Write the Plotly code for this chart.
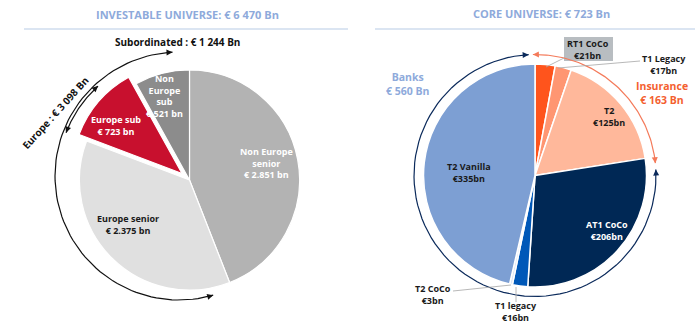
import math
import plotly.graph_objects as go

# ---- data -------------------------------------------------------------
left_labels = ["Non Europe senior", "Europe senior", "Europe sub", "Non Europe sub"]
left_values = [2851, 2375, 723, 521]
left_colors = ["#b3b3b3", "#e0e0e0", "#c8102e", "#8c8c8c"]
left_pull = [0, 0, 0.09, 0]

right_labels = ["RT1 CoCo", "T1 Legacy", "T2", "AT1 CoCo", "T1 legacy", "T2 CoCo", "T2 Vanilla"]
right_values = [21, 17, 125, 206, 16, 3, 335]
right_colors = ["#ff541c", "#ff9672", "#ffb89b", "#002855", "#0058b8", "#dce6f5", "#7d9fd3"]
right_groups = ["Insurance", "Insurance", "Insurance", "Banks", "Banks", "Banks", "Banks"]

W, H = 695, 326
TITLE_BLUE = "#8eaadb"
FONT = "Open Sans"


def thousands(v, sep):
    return f"{v:,}".replace(",", sep)


total_left = sum(left_values)
total_right = sum(right_values)
subordinated = left_values[2] + left_values[3]
europe = left_values[1] + left_values[2]
banks = sum(v for v, g in zip(right_values, right_groups) if g == "Banks")
insurance = sum(v for v, g in zip(right_values, right_groups) if g == "Insurance")

fig = go.Figure()


def domain_for(cx, cy, r):
    return dict(x=[(cx - r) / W, (cx + r) / W], y=[1 - (cy + r) / H, 1 - (cy - r) / H])


# ---- pies ---------------------------------------------------------------
fig.add_trace(go.Pie(
    labels=left_labels, values=left_values, sort=False, direction="clockwise",
    rotation=0, pull=left_pull, textinfo="none", hoverinfo="label+value",
    marker=dict(colors=left_colors, line=dict(color="white", width=1.2)),
    domain=domain_for(189.5, 180, 120), showlegend=False,
))
fig.add_trace(go.Pie(
    labels=right_labels, values=right_values, sort=False, direction="clockwise",
    rotation=0, textinfo="none", hoverinfo="label+value",
    marker=dict(colors=right_colors, line=dict(color="white", width=1.5)),
    domain=domain_for(535, 175.5, 111.5), showlegend=False,
))

# ---- bracket arcs (pixel-space overlay axis) ------------------------------
annotations = []


def arc(cx, cy, r, a0, a1, color, width=1.2):
    n = 80
    xs, ys = [], []
    for i in range(n + 1):
        a = math.radians(a0 + (a1 - a0) * i / n)
        xs.append(cx + r * math.sin(a))
        ys.append(cy - r * math.cos(a))
    fig.add_trace(go.Scatter(x=xs, y=ys, mode="lines", hoverinfo="skip",
                             line=dict(color=color, width=width), showlegend=False))
    # arrow heads at both ends, tangent to the arc
    for a, sgn in ((a1, 1), (a0, -1)):
        ar = math.radians(a)
        tx, ty = cx + r * math.sin(ar), cy - r * math.cos(ar)
        dx, dy = sgn * math.cos(ar), sgn * math.sin(ar)
        annotations.append(dict(
            x=tx, y=ty, ax=tx - dx * 6, ay=ty - dy * 6, xref="x", yref="y",
            axref="x", ayref="y", text="", showarrow=True, arrowhead=2,
            arrowsize=1, arrowwidth=width, arrowcolor=color, standoff=0,
        ))


arc(179, 176, 124, 164, 357, "#111111")
arc(179, 176, 121, 291, 318, "#111111")

right_split = insurance / total_right * 360
arc(535, 175.5, 121, -1, right_split + 3, "#f47a5a")
arc(535, 175.5, 121, right_split + 6, 357, "#0b2a5b")


# ---- text ---------------------------------------------------------------
def label(x, yc, lines, size=9, color="#1a1a1a", **kw):
    text = "<br>".join(f"<b>{t}</b>" for t in lines)
    annotations.append(dict(
        x=x, y=yc, xref="x", yref="y", text=text, showarrow=False,
        font=dict(family=FONT, size=size, color=color), align="center",
        xanchor="center", yanchor="middle", borderpad=0, **kw,
    ))


label(187, 14, [f"INVESTABLE UNIVERSE: € {thousands(total_left, ' ')} Bn"], size=11, color=TITLE_BLUE)
label(541, 13, [f"CORE UNIVERSE: € {thousands(total_right, ' ')} Bn"], size=11, color=TITLE_BLUE)

label(177, 42, [f"Subordinated : € {thousands(subordinated, ' ')} Bn"], size=10, color="#111111")
label(55, 113, [f"Europe : € {thousands(europe, ' ')} Bn"], size=10, color="#111111", textangle=-48)

left_text = {
    "Non Europe senior": (266, 163, ["Non Europe", "senior"], "white"),
    "Europe senior": (128, 224, ["Europe senior"], "#1a1a1a"),
    "Europe sub": (116, 125, ["Europe sub"], "white"),
    "Non Europe sub": (164, 96, ["Non", "Europe", "sub"], "white"),
}
for name, v in zip(left_labels, left_values):
    x, y, head, col = left_text[name]
    label(x, y, head + [f"€ {thousands(v, '.')} bn"], color=col)

label(408, 84, ["Banks", f"€ {banks} Bn"], size=10.5, color=TITLE_BLUE)
label(662, 93, ["Insurance", f"€ {insurance} Bn"], size=10.5, color="#f4602f")

right_text = {
    "RT1 CoCo": (588, 49, "#1a1a1a"),
    "T1 Legacy": (664, 64, "#1a1a1a"),
    "T2": (609, 116, "#1a1a1a"),
    "AT1 CoCo": (607, 230, "white"),
    "T1 legacy": (516, 311, "#1a1a1a"),
    "T2 CoCo": (433, 294, "#1a1a1a"),
    "T2 Vanilla": (469, 172, "#1a1a1a"),
}
for name, v in zip(right_labels, right_values):
    x, y, col = right_text[name]
    label(x, y, [name, f"€{v}bn"], color=col)

# grey tag behind the RT1 CoCo label
shapes = [
    dict(type="rect", xref="x", yref="y", x0=564, x1=613, y0=37, y1=61,
         fillcolor="#b8bdc1", line=dict(width=0), layer="below"),
    # title rules
    dict(type="line", xref="x", yref="y", x0=24, x1=348, y0=29, y1=29,
         line=dict(color="#dbe5f2", width=2)),
    dict(type="line", xref="x", yref="y", x0=375, x1=695, y0=29, y1=29,
         line=dict(color="#dbe5f2", width=2)),
]
# leader lines for the small slices
for x0, y0, x1, y1 in [(546, 67, 564, 58), (558, 68, 640, 61),
                       (453, 291, 511, 285), (516, 302, 516, 287)]:
    shapes.append(dict(type="line", xref="x", yref="y", x0=x0, y0=y0, x1=x1, y1=y1,
                       line=dict(color="#a6a6a6", width=0.8), layer="above"))

fig.update_layout(
    width=W, height=H, margin=dict(l=0, r=0, t=0, b=0),
    paper_bgcolor="white", plot_bgcolor="rgba(0,0,0,0)",
    xaxis=dict(range=[0, W], visible=False, fixedrange=True, domain=[0, 1]),
    yaxis=dict(range=[H, 0], visible=False, fixedrange=True, domain=[0, 1]),
    annotations=annotations, shapes=shapes, showlegend=False,
)

fig.write_html("out.html")
